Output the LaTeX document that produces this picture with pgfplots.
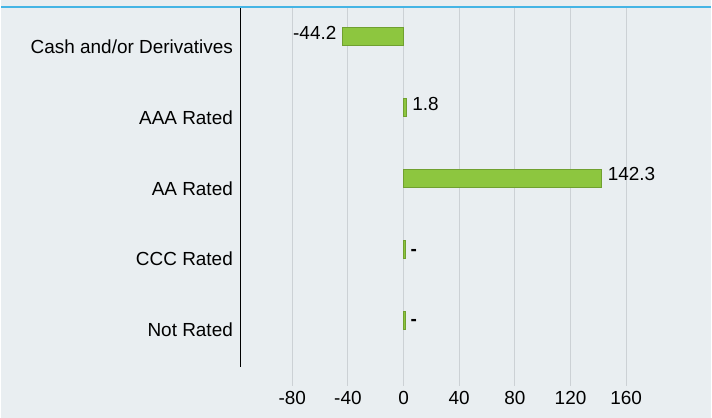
\documentclass[border=0pt]{standalone}
\usepackage{pgfplots}
\pgfplotsset{compat=1.18}
\usepackage{fontspec}
\setmainfont{Liberation Sans}
\definecolor{bgc}{RGB}{233,238,241}
\definecolor{topblue}{RGB}{69,181,229}
\definecolor{gridc}{RGB}{204,209,213}
\definecolor{barfill}{RGB}{141,198,63}
\definecolor{barline}{RGB}{112,160,48}
\begin{document}
\begin{tikzpicture}[font=\fontsize{19}{22}\selectfont]
\fill[bgc] (-240pt,-32pt) rectangle (472pt,387pt);
\draw[topblue, line width=2.2pt] (-240pt,380.3pt) -- (472pt,380.3pt);
\begin{axis}[
  at={(0pt,0pt)}, anchor=south west,
  scale only axis,
  width=460pt, height=379pt,
  xbar, bar width=18pt, bar shift=0pt,
  xmin=-117.3, xmax=212.3,
  ymin=-0.789, ymax=4.549,
  xtick={-80,-40,0,40,80,120,160},
  ytick={0,1,2,3,4},
  yticklabels={Not Rated,CCC Rated,AA Rated,AAA Rated,Cash and/or Derivatives},
  axis line style={draw=none},
  major tick length=0pt,
  xmajorgrids, major grid style={gridc, line width=1.1pt},
  tick style={draw=none},
  /pgf/number format/assume math mode=true,
  x tick label style={font=\fontsize{19}{22}\selectfont, anchor=north, yshift=-2pt},
  y tick label style={font=\fontsize{19}{22}\selectfont, anchor=east, xshift=-4pt},
  point meta=explicit symbolic,
  nodes near coords={\pgfplotspointmeta},
  clip=false,
]
\addplot[fill=barfill, draw=barline, line width=0.8pt,
  every node near coord/.style={font=\fontsize{19}{22}\selectfont, anchor=east, xshift=-2pt, yshift=4pt, text=black}]
  table[meta=label] {
x y label
-44.2 4.141 -44.2
};
\addplot[fill=barfill, draw=barline, line width=0.8pt,
  every node near coord/.style={font=\fontsize{19}{22}\selectfont, anchor=west, xshift=2.5pt, yshift=4pt, text=black}]
  table[meta=label] {
x y label
1.8 3.141 1.8
142.3 2.141 142.3
};
\addplot[fill=barfill, draw=barline, line width=0.8pt,
  every node near coord/.style={font=\fontsize{19}{22}\selectfont\bfseries, anchor=west, xshift=2pt, yshift=-3pt, text=black}]
  table[meta=label] {
x y label
1.0 1.141 -
1.0 0.141 -
};
\draw[black, line width=1.1pt] (axis cs:-117.3,-0.521) -- (rel axis cs:0,1);
\end{axis}
\end{tikzpicture}
\end{document}
